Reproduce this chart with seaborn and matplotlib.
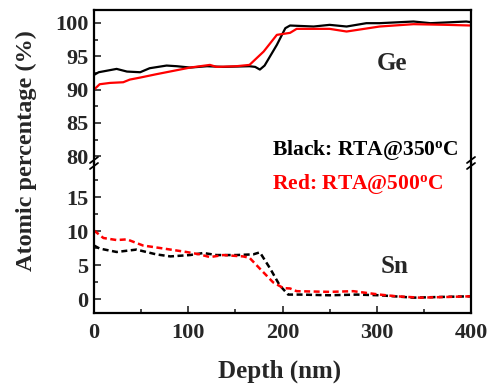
import numpy as np
import pandas as pd
import matplotlib
matplotlib.use("Agg")
import matplotlib.pyplot as plt
import seaborn as sns

# ---- data ----
ge_black_x = [0, 5, 24, 35, 49, 59, 77, 88, 102, 120, 137, 165, 171, 176, 181, 194, 203, 208,
              233, 250, 268, 289, 303, 339, 357, 395, 400]
ge_black_y = [92.2, 92.6, 93.1, 92.7, 92.6, 93.2, 93.6, 93.5, 93.3, 93.5, 93.4, 93.5, 93.4, 93.0, 93.6,
              96.7, 99.2, 99.6, 99.45, 99.7, 99.45, 99.95, 99.95, 100.2, 99.95, 100.2, 100.1]
ge_red_x = [0, 6, 17, 31, 38, 49, 66, 84, 102, 123, 130, 151, 165, 180, 194, 208,
            215, 250, 268, 303, 339, 374, 400]
ge_red_y = [90.0, 90.8, 91.0, 91.1, 91.5, 91.8, 92.3, 92.8, 93.3, 93.7, 93.4, 93.5, 93.7, 95.7, 98.2, 98.5,
            99.1, 99.1, 98.7, 99.45, 99.8, 99.7, 99.6]
sn_black_x = [0, 6, 24, 45, 66, 81, 102, 116, 130, 151, 169, 176, 187, 197, 206,
              219, 250, 279, 303, 339, 367, 400]
sn_black_y = [7.9, 7.45, 6.95, 7.3, 6.6, 6.3, 6.5, 6.8, 6.5, 6.5, 6.6, 6.9, 4.5, 2.06, 0.7,
              0.7, 0.6, 0.7, 0.6, 0.25, 0.35, 0.45]
sn_red_x = [0, 10, 24, 35, 52, 74, 98, 112, 123, 137, 158, 165, 176, 190, 201, 208,
            215, 250, 275, 303, 321, 346, 374, 400]
sn_red_y = [10.1, 9.0, 8.7, 8.8, 7.9, 7.45, 6.95, 6.6, 6.2, 6.5, 6.3, 6.1, 4.5, 2.5, 1.65, 1.6,
            1.2, 1.1, 1.2, 0.7, 0.45, 0.25, 0.35, 0.45]
x_ticks = [0, 100, 200, 300, 400]
top_ticks = [80, 85, 90, 95, 100]
bottom_ticks = [0, 5, 10, 15]

sns.set_style("ticks")
plt.rcParams['font.family'] = ['Liberation Serif', 'DejaVu Serif']
plt.rcParams['font.weight'] = 'bold'
plt.rcParams['mathtext.fontset'] = 'custom'
plt.rcParams['mathtext.rm'] = 'Liberation Serif:bold'
plt.rcParams['mathtext.it'] = 'Liberation Serif:bold'
plt.rcParams['mathtext.bf'] = 'Liberation Serif:bold'

fig = plt.figure(figsize=(4.91, 3.86), dpi=100)
L, R = 94 / 491, 471 / 491
T = 1 - 9.5 / 386
B = 1 - 163 / 386
BB = 1 - 313 / 386
ax_top = fig.add_axes([L, B, R - L, T - B])
ax_bot = fig.add_axes([L, BB, R - L, B - BB])

df_ge_b = pd.DataFrame({"x": ge_black_x, "y": ge_black_y})
df_ge_r = pd.DataFrame({"x": ge_red_x, "y": ge_red_y})
df_sn_b = pd.DataFrame({"x": sn_black_x, "y": sn_black_y})
df_sn_r = pd.DataFrame({"x": sn_red_x, "y": sn_red_y})

sns.lineplot(data=df_ge_b, x="x", y="y", ax=ax_top, color="black", lw=1.6, sort=False, estimator=None)
sns.lineplot(data=df_ge_r, x="x", y="y", ax=ax_top, color="#ff0000", lw=1.6, sort=False, estimator=None)
sns.lineplot(data=df_sn_b, x="x", y="y", ax=ax_bot, color="black", lw=1.8, sort=False, estimator=None,
             linestyle=(0, (2.4, 1.4)))
sns.lineplot(data=df_sn_r, x="x", y="y", ax=ax_bot, color="#ff0000", lw=1.8, sort=False, estimator=None,
             linestyle=(0, (2.4, 1.4)))

for ax in (ax_top, ax_bot):
    ax.set_xlim(0, 400)
    ax.set_xlabel("")
    ax.set_ylabel("")
    for s in ax.spines.values():
        s.set_linewidth(1.6)
        s.set_color("black")
    ax.tick_params(direction="in", which="both", width=1.2, labelsize=16)
    ax.tick_params(which="major", length=5)
    ax.tick_params(which="minor", length=3)
    ax.tick_params(axis="y", pad=4)
    ax.tick_params(axis="x", pad=7)

ax_top.set_ylim(79, 102)
ax_top.set_yticks(top_ticks)
ax_top.set_yticks([82.5, 87.5, 92.5, 97.5], minor=True)
ax_top.spines["bottom"].set_visible(False)
ax_top.tick_params(axis="x", which="both", bottom=False, labelbottom=False)

ax_bot.set_ylim(-2, 20)
ax_bot.set_yticks(bottom_ticks)
ax_bot.set_yticks([2.5, 7.5, 12.5, 17.5], minor=True)
ax_bot.spines["top"].set_visible(False)
ax_bot.set_xticks(x_ticks)
ax_bot.set_xticks([50, 150, 250, 350], minor=True)

for ax in (ax_top, ax_bot):
    for lab in ax.get_xticklabels() + ax.get_yticklabels():
        lab.set_fontweight("bold")

fig.text((L + R) / 2 - 0.005, 1 - 371 / 386, "Depth (nm)", fontsize=18, fontweight="bold",
         ha="center", va="center")
fig.text(26 / 491, 1 - 151 / 386, "Atomic percentage (%)", rotation=90, fontsize=17.5,
         fontweight="bold", ha="center", va="center")

ax_top.text(0.79, 0.651, "Ge", transform=ax_top.transAxes, fontsize=18, fontweight="bold",
            ha="center", va="center")
ax_bot.text(0.796, 0.307, "Sn", transform=ax_bot.transAxes, fontsize=18, fontweight="bold",
            ha="center", va="center")
fig.text(272 / 491, 1 - 150 / 386, r"Black: RTA@350$^{\rm o}$C", fontsize=15.5, fontweight="bold",
         color="black", ha="left", va="center")
fig.text(272 / 491, 1 - 184 / 386, r"Red: RTA@500$^{\rm o}$C", fontsize=15.5, fontweight="bold",
         color="#ff0000", ha="left", va="center")

# break marks
for xf in (L, R):
    for dy in (-3, 3):
        x0 = xf * 491
        y0 = (1 - B) * 386 + dy
        fig.add_artist(plt.Line2D([(x0 - 4) / 491, (x0 + 4) / 491],
                                  [1 - (y0 + 3) / 386, 1 - (y0 - 3) / 386],
                                  transform=fig.transFigure, color="black", lw=1.3))

fig.savefig("out.png", dpi=100)
